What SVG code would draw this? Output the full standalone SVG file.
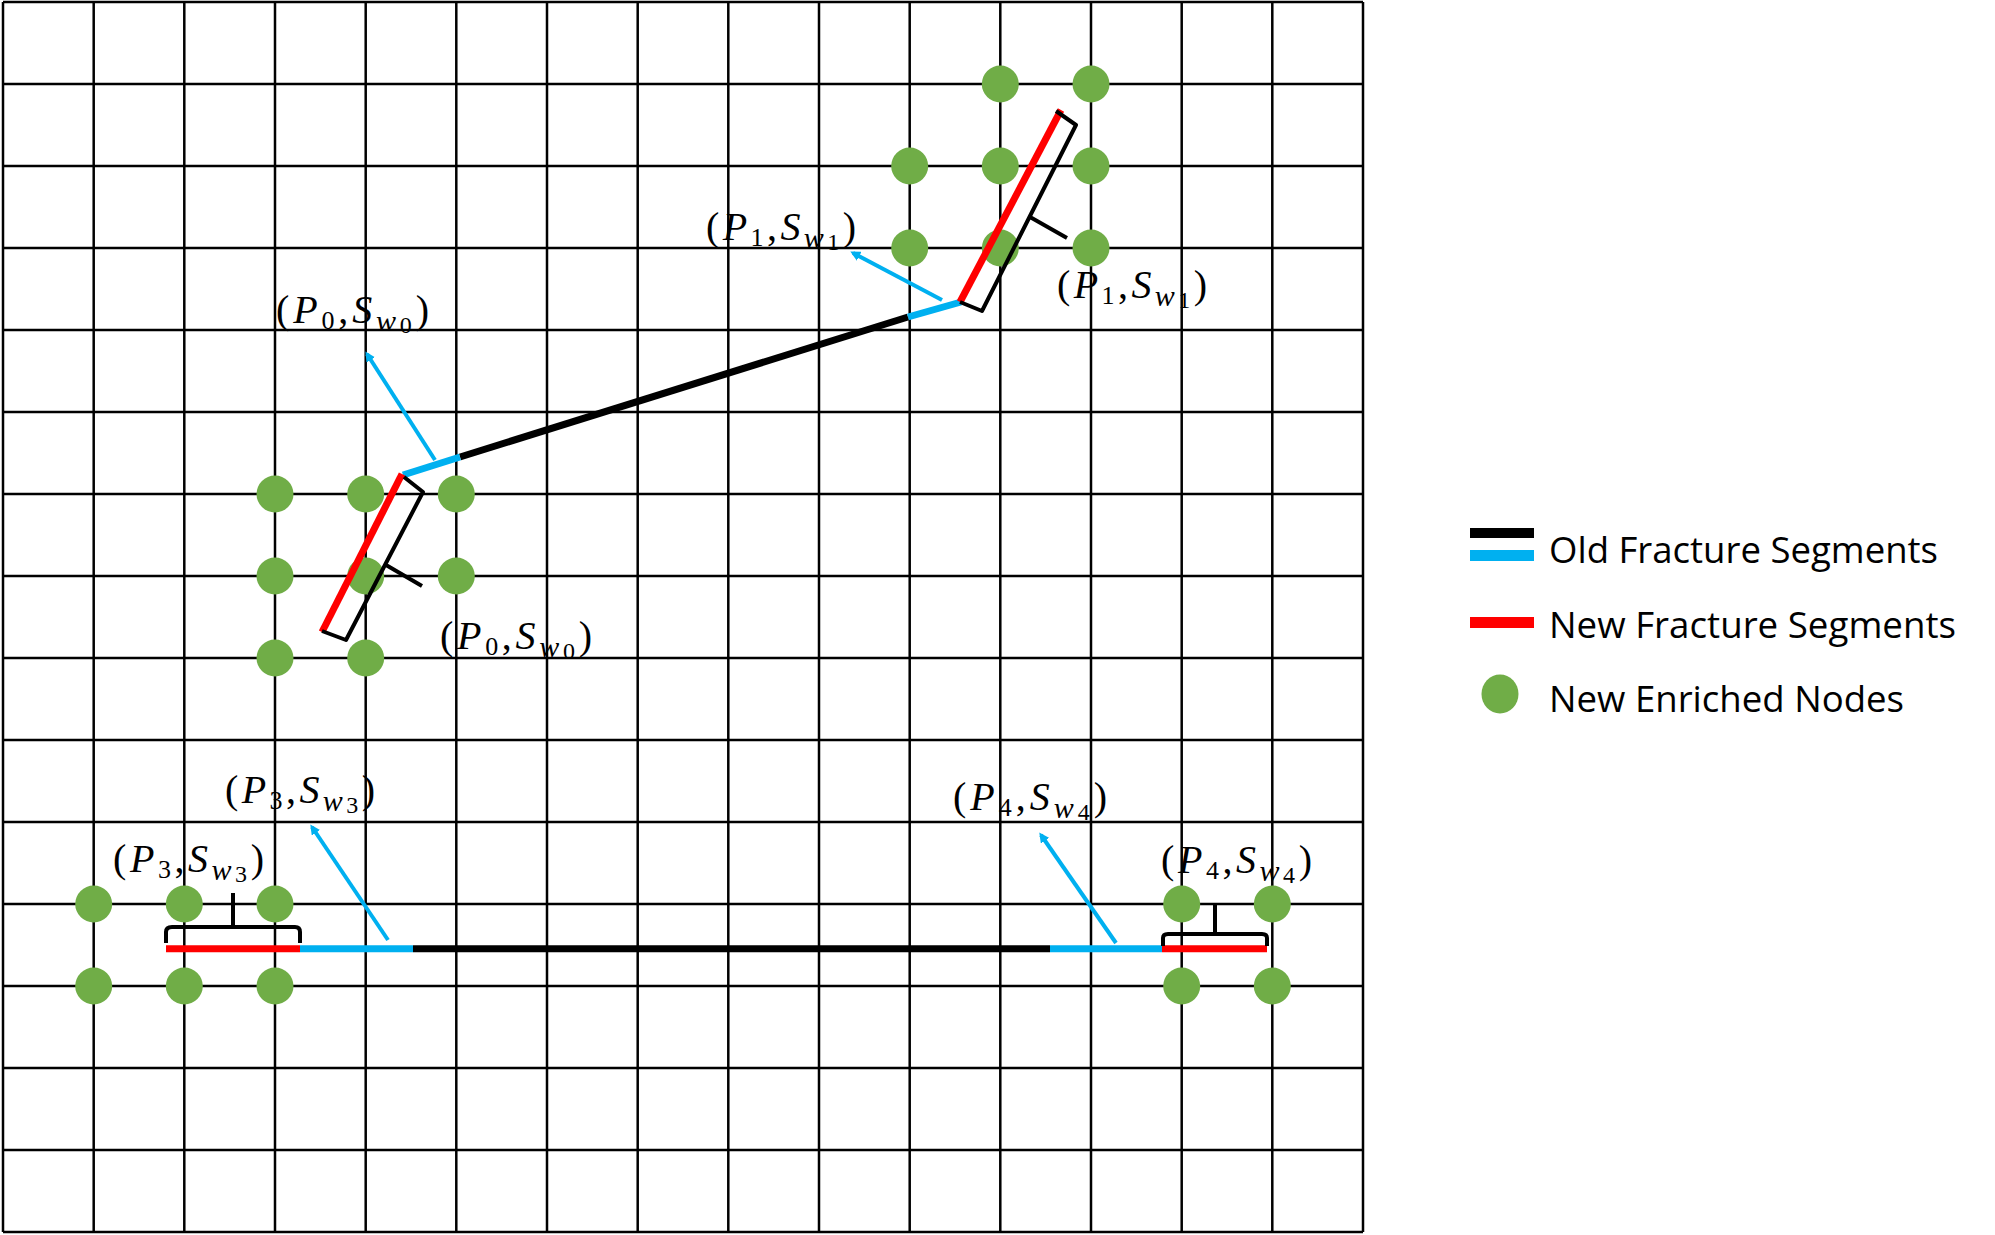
<svg xmlns="http://www.w3.org/2000/svg" width="1995" height="1235" viewBox="0 0 1995 1235">
<style>
.g{stroke:#000;stroke-width:2.5;fill:none}
.n{fill:#70AD47}
.blk{stroke:#000;stroke-width:7;fill:none}
.blu{stroke:#00B0F0;stroke-width:7;fill:none}
.red{stroke:#FF0000;stroke-width:7;fill:none}
.br{stroke:#000;stroke-width:4;fill:none;stroke-linejoin:round}
.arr{stroke:#00B0F0;stroke-width:4;fill:none}
.lab{font-family:"Liberation Serif",serif;font-size:40px;fill:#000}
.i{font-style:italic}
.leg{font-family:"Open Sans","Noto Sans",sans-serif;font-size:37px;fill:#000}
</style>
<defs>
<marker id="ah" markerWidth="10" markerHeight="10" refX="7" refY="5" orient="auto" markerUnits="userSpaceOnUse" viewBox="0 0 10 10">
<path d="M0,0 L10,5 L0,10 Z" fill="#00B0F0"/>
</marker>
</defs>
<g id="grid">
<path class="g" d="M3,2V1232M93.7,2V1232M184.3,2V1232M275,2V1232M365.7,2V1232M456.3,2V1232M547,2V1232M637.7,2V1232M728.3,2V1232M819,2V1232M909.7,2V1232M1000.3,2V1232M1091,2V1232M1181.7,2V1232M1272.3,2V1232M1363,2V1232"/>
<path class="g" d="M3,2H1363M3,84H1363M3,166H1363M3,248H1363M3,330H1363M3,412H1363M3,494H1363M3,576H1363M3,658H1363M3,740H1363M3,822H1363M3,904H1363M3,986H1363M3,1068H1363M3,1150H1363M3,1232H1363"/>
</g>
<g id="nodes0">
<circle class="n" cx="275" cy="494" r="18.5"/><circle class="n" cx="365.7" cy="494" r="18.5"/><circle class="n" cx="456.3" cy="494" r="18.5"/>
<circle class="n" cx="275" cy="576" r="18.5"/><circle class="n" cx="365.7" cy="576" r="18.5"/><circle class="n" cx="456.3" cy="576" r="18.5"/>
<circle class="n" cx="275" cy="658" r="18.5"/><circle class="n" cx="365.7" cy="658" r="18.5"/>
</g>
<g id="nodes1">
<circle class="n" cx="1000.3" cy="84" r="18.5"/><circle class="n" cx="1091" cy="84" r="18.5"/>
<circle class="n" cx="909.7" cy="166" r="18.5"/><circle class="n" cx="1000.3" cy="166" r="18.5"/><circle class="n" cx="1091" cy="166" r="18.5"/>
<circle class="n" cx="909.7" cy="248" r="18.5"/><circle class="n" cx="1000.3" cy="248" r="18.5"/><circle class="n" cx="1091" cy="248" r="18.5"/>
</g>
<g id="nodes3">
<circle class="n" cx="93.7" cy="904" r="18.5"/><circle class="n" cx="184.3" cy="904" r="18.5"/><circle class="n" cx="275" cy="904" r="18.5"/>
<circle class="n" cx="93.7" cy="986" r="18.5"/><circle class="n" cx="184.3" cy="986" r="18.5"/><circle class="n" cx="275" cy="986" r="18.5"/>
</g>
<g id="nodes4">
<circle class="n" cx="1181.7" cy="904" r="18.5"/><circle class="n" cx="1272.3" cy="904" r="18.5"/>
<circle class="n" cx="1181.7" cy="986" r="18.5"/><circle class="n" cx="1272.3" cy="986" r="18.5"/>
</g>
<g id="connectors">
<line class="blk" x1="460" y1="457" x2="908" y2="317"/>
<line class="blu" x1="403" y1="475" x2="460" y2="457"/>
<line class="blu" x1="908" y1="317" x2="961" y2="302"/>
<line class="red" x1="402" y1="474" x2="322" y2="632"/>
<line class="red" x1="1061" y1="110" x2="960" y2="302"/>
<line class="blk" x1="413" y1="948.7" x2="1050" y2="948.7"/>
<line class="blu" x1="300" y1="948.7" x2="413" y2="948.7"/>
<line class="blu" x1="1050" y1="948.7" x2="1162" y2="948.7"/>
<line class="red" x1="166" y1="948.7" x2="300" y2="948.7"/>
<line class="red" x1="1162" y1="948.7" x2="1267" y2="948.7"/>
<line class="arr" x1="435" y1="460" x2="367" y2="354" marker-end="url(#ah)"/>
<line class="arr" x1="942" y1="300" x2="853" y2="253" marker-end="url(#ah)"/>
<line class="arr" x1="388" y1="940" x2="312" y2="827" marker-end="url(#ah)"/>
<line class="arr" x1="1116" y1="943" x2="1041" y2="835" marker-end="url(#ah)"/>
<path class="br" d="M404,477 L423,492 L386,563 L346,640 L322,631 M386,565 L422,586"/>
<path class="br" d="M1056,111 L1076,125 L1030,216 L982,311 L960,302 M1030,217 L1067,238"/>
<path class="br" d="M166,943 L166,932 Q166,927 172,927 L295,927 Q300,927 300,932 L300,943 M233,927 L233,893"/>
<path class="br" d="M1163,946 L1163,938 Q1163,934 1168,934 L1262,934 Q1267,934 1267,938 L1267,946 M1215,934 L1215,904"/>
</g>
<g id="labels">
<text class="lab" x="276" y="323" textLength="153" lengthAdjust="spacing">(<tspan class="i">P</tspan><tspan font-size="26" dy="6">0</tspan><tspan dy="-6">,</tspan><tspan class="i">S</tspan><tspan class="i" font-size="30" dy="8">w</tspan><tspan font-size="24" dy="2">0</tspan><tspan dy="-10">)</tspan></text>
<text class="lab" x="440" y="649" textLength="152" lengthAdjust="spacing">(<tspan class="i">P</tspan><tspan font-size="26" dy="6">0</tspan><tspan dy="-6">,</tspan><tspan class="i">S</tspan><tspan class="i" font-size="30" dy="8">w</tspan><tspan font-size="24" dy="2">0</tspan><tspan dy="-10">)</tspan></text>
<text class="lab" x="706" y="240" textLength="150" lengthAdjust="spacing">(<tspan class="i">P</tspan><tspan font-size="26" dy="6">1</tspan><tspan dy="-6">,</tspan><tspan class="i">S</tspan><tspan class="i" font-size="30" dy="8">w</tspan><tspan font-size="24" dy="2">1</tspan><tspan dy="-10">)</tspan></text>
<text class="lab" x="1057" y="298" textLength="150" lengthAdjust="spacing">(<tspan class="i">P</tspan><tspan font-size="26" dy="6">1</tspan><tspan dy="-6">,</tspan><tspan class="i">S</tspan><tspan class="i" font-size="30" dy="8">w</tspan><tspan font-size="24" dy="2">1</tspan><tspan dy="-10">)</tspan></text>
<text class="lab" x="225" y="803" textLength="150" lengthAdjust="spacing">(<tspan class="i">P</tspan><tspan font-size="26" dy="6">3</tspan><tspan dy="-6">,</tspan><tspan class="i">S</tspan><tspan class="i" font-size="30" dy="8">w</tspan><tspan font-size="24" dy="2">3</tspan><tspan dy="-10">)</tspan></text>
<text class="lab" x="113" y="872" textLength="151" lengthAdjust="spacing">(<tspan class="i">P</tspan><tspan font-size="26" dy="6">3</tspan><tspan dy="-6">,</tspan><tspan class="i">S</tspan><tspan class="i" font-size="30" dy="8">w</tspan><tspan font-size="24" dy="2">3</tspan><tspan dy="-10">)</tspan></text>
<text class="lab" x="953" y="810" textLength="154" lengthAdjust="spacing">(<tspan class="i">P</tspan><tspan font-size="26" dy="6">4</tspan><tspan dy="-6">,</tspan><tspan class="i">S</tspan><tspan class="i" font-size="30" dy="8">w</tspan><tspan font-size="24" dy="2">4</tspan><tspan dy="-10">)</tspan></text>
<text class="lab" x="1161" y="873" textLength="151" lengthAdjust="spacing">(<tspan class="i">P</tspan><tspan font-size="26" dy="6">4</tspan><tspan dy="-6">,</tspan><tspan class="i">S</tspan><tspan class="i" font-size="30" dy="8">w</tspan><tspan font-size="24" dy="2">4</tspan><tspan dy="-10">)</tspan></text>
</g>
<g id="legend">
<rect x="1470" y="528" width="64" height="10" fill="#000"/>
<rect x="1470" y="550" width="64" height="11" fill="#00B0F0"/>
<rect x="1470" y="617" width="64" height="11" fill="#FF0000"/>
<ellipse cx="1500" cy="694" rx="18.5" ry="19.5" fill="#70AD47"/>
<text class="leg" x="1549" y="563" textLength="389" lengthAdjust="spacingAndGlyphs">Old Fracture Segments</text>
<text class="leg" x="1549" y="638" textLength="407" lengthAdjust="spacingAndGlyphs">New Fracture Segments</text>
<text class="leg" x="1549" y="712" textLength="355" lengthAdjust="spacingAndGlyphs">New Enriched Nodes</text>
</g>
</svg>
